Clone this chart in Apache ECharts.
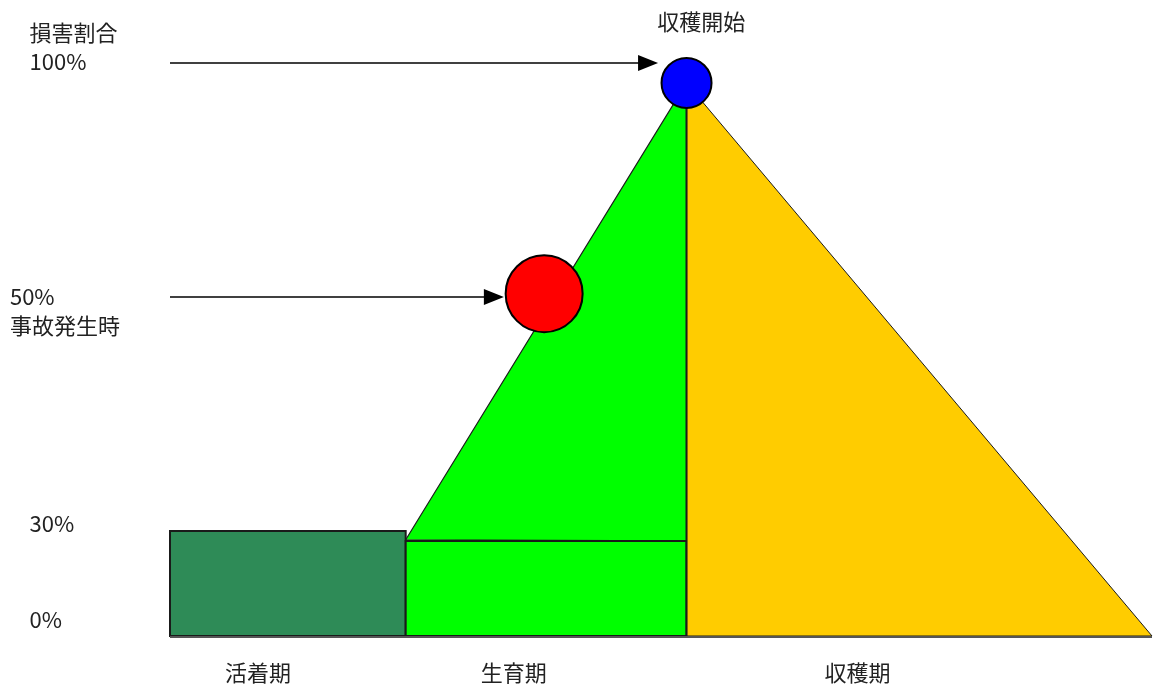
<!DOCTYPE html>
<html><head><meta charset="utf-8">
<script src="https://cdn.jsdelivr.net/npm/echarts@6/dist/echarts.min.js"></script>
<style>html,body{margin:0;padding:0;background:#fff}#c{width:1153px;height:685px}</style>
</head><body><div id="c"></div>
<script>
// ---- data (x: time units across the season, y: damage ratio %) ----
const phases = ['活着期', '生育期', '収穫期'];
const phaseBounds = [0, 24, 52.6, 100];
const rootingHeight = 19;        // dark green block
const growthBaseHeight = 17.2;   // light green block
const peakDamage = 100;          // harvest start
const harvestStart = [52.6, 100];
const accident = [38.1, 61.9];
const yTickLabels = ['0%', '30%', '50%', '100%'];
const yTickValues = [2.9, 20.3, 61.3, 103.8];
const yTickNotes = ['', '', '事故発生時', '損害割合'];
const peakLabel = '収穫開始';
const arrowTargets = [[49.7, 103.6], [34.0, 61.3]];

const EDGE = '#1a1a1a';
const FONT = '22px "Noto Sans CJK JP", "Noto Sans", sans-serif';
const TXT = '#222';

function txt(x, y, s, align, va) {
  return {type: 'text', x: x, y: y, style: {text: s, font: FONT, fill: TXT,
    textAlign: align, align: align, textVerticalAlign: va, verticalAlign: va}};
}

const chart = echarts.init(document.getElementById('c'));
chart.setOption({
  animation: false,
  grid: {left: 170, right: 1, top: 0, bottom: 49},
  xAxis: {type: 'value', min: 0, max: 100, show: false},
  yAxis: {type: 'value', min: 0, max: 115, show: false},
  series: [
    {
      type: 'custom', clip: false, data: [0],
      renderItem: function (params, api) {
        const c = (x, y) => api.coord([x, y]);
        const ch = [];
        const a = c(phaseBounds[0], rootingHeight), b = c(phaseBounds[1], 0);
        ch.push({type: 'rect', shape: {x: a[0], y: a[1], width: b[0] - a[0], height: b[1] - a[1]},
          style: {fill: '#2e8b57', stroke: EDGE, lineWidth: 2}});
        ch.push({type: 'polygon', shape: {points: [c(phaseBounds[1], growthBaseHeight + 0.2), c(harvestStart[0], peakDamage), c(phaseBounds[2], growthBaseHeight)]},
          style: {fill: '#00ff00', stroke: EDGE, lineWidth: 1.2}});
        const g1 = c(phaseBounds[1], growthBaseHeight), g2 = c(phaseBounds[2], 0);
        ch.push({type: 'rect', shape: {x: g1[0], y: g1[1], width: g2[0] - g1[0], height: g2[1] - g1[1]},
          style: {fill: '#00ff00', stroke: EDGE, lineWidth: 2}});
        ch.push({type: 'polygon', shape: {points: [c(harvestStart[0], peakDamage), c(phaseBounds[3], 0), c(phaseBounds[2], 0)]},
          style: {fill: '#ffcc00', stroke: EDGE, lineWidth: 1}});
        const v1 = c(harvestStart[0], peakDamage), v2 = c(harvestStart[0], 0);
        ch.push({type: 'line', shape: {x1: v1[0], y1: v1[1], x2: v2[0], y2: v2[1]}, style: {stroke: EDGE, lineWidth: 2}});
        const b1 = c(phaseBounds[0], 0), b2 = c(phaseBounds[3], 0);
        ch.push({type: 'line', shape: {x1: b1[0], y1: b1[1] + 1, x2: b2[0], y2: b2[1] + 1}, style: {stroke: '#555', lineWidth: 2}});
        arrowTargets.forEach(function (t) {
          const s = c(0, t[1]), e = c(t[0], t[1]);
          ch.push({type: 'line', shape: {x1: s[0], y1: s[1], x2: e[0] - 15, y2: e[1]}, style: {stroke: '#000', lineWidth: 1.5}});
          ch.push({type: 'polygon', shape: {points: [[e[0] - 20, e[1] - 8], [e[0], e[1]], [e[0] - 20, e[1] + 8]]}, style: {fill: '#000'}});
        });
        return {type: 'group', children: ch};
      },
      z: 1
    },
    {
      type: 'scatter', symbol: 'circle', z: 3,
      data: [
        {value: harvestStart, symbolSize: 50, itemStyle: {color: '#0000ff', opacity: 1, borderColor: '#000', borderWidth: 2}},
        {value: accident, symbolSize: 77, itemStyle: {color: '#ff0000', opacity: 1, borderColor: '#000', borderWidth: 2}}
      ]
    },
    {
      type: 'custom', clip: false, data: [0], z: 4,
      renderItem: function (params, api) {
        const c = (x, y) => api.coord([x, y]);
        const ch = [];
        yTickLabels.forEach(function (l, i) {
          const p = c(0, yTickValues[i]);
          const x = i === 2 ? c(-16.3, 0)[0] : c(-14.3, 0)[0];
          ch.push(txt(x, p[1], l, 'left', 'middle'));
          if (yTickNotes[i]) {
            const dy = i === 3 ? -29 : 29;
            ch.push(txt(x, p[1] + dy, yTickNotes[i], 'left', 'middle'));
          }
        });
        const pk = c(harvestStart[0] + 1.5, 111);
        ch.push(txt(pk[0], pk[1], peakLabel, 'center', 'middle'));
        const lx = [8.95, 35.0, 70.0];
        phases.forEach(function (p, i) {
          const q = c(lx[i], -6.6);
          ch.push(txt(q[0], q[1], p, 'center', 'middle'));
        });
        return {type: 'group', children: ch};
      }
    }
  ]
});
</script></body></html>
